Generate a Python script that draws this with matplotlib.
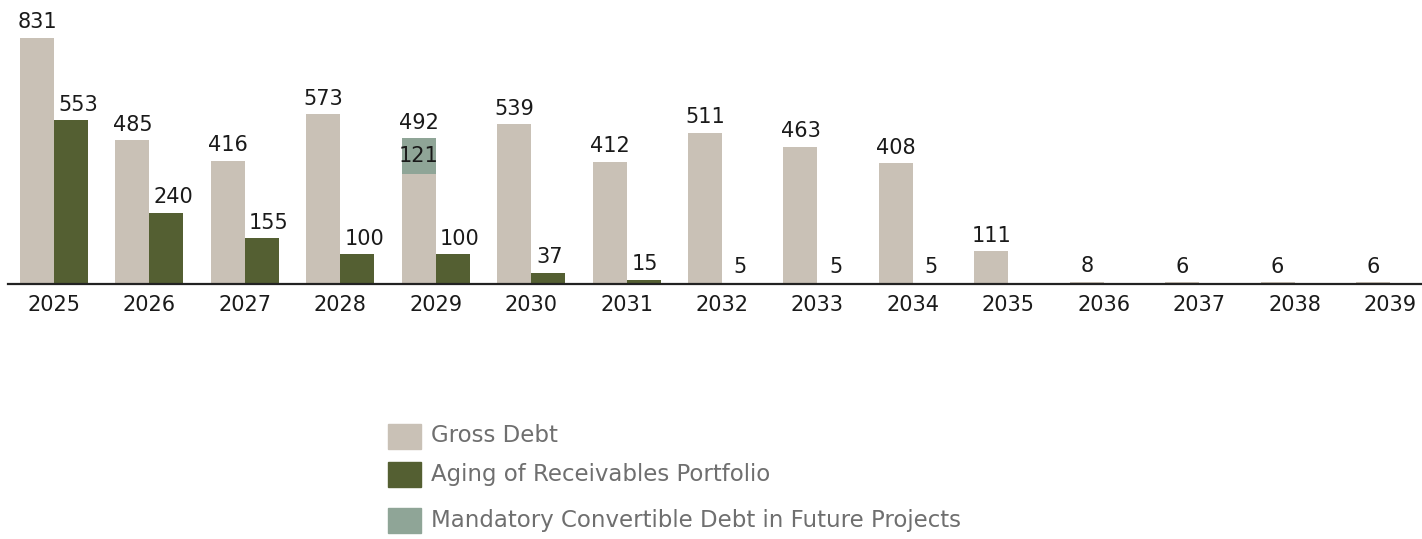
import numpy as np
from matplotlib import pyplot as plt
from matplotlib.patches import Rectangle

years = [str(y) for y in range(2025, 2040)]
gross_debt = [831, 485, 416, 573, 492, 539, 412, 511, 463, 408, 111, 8, 6, 6, 6]
receivables = [553, 240, 155, 100, 100, 37, 15, 5, 5, 5, 0, 0, 0, 0, 0]
# mandatory convertible portion sits on top of the 2029 gross debt bar
convertible = [0, 0, 0, 0, 121, 0, 0, 0, 0, 0, 0, 0, 0, 0, 0]

legend_labels = ['Gross Debt', 'Aging of Receivables Portfolio',
                 'Mandatory Convertible Debt in Future Projects']

c_gross = '#c9c1b6'
c_recv = '#545f32'
c_conv = '#8fa597'
c_text = '#1a1a1a'

plt.rcParams['font.family'] = ['DejaVu Sans']

W, H = 1422, 539
fig = plt.figure(figsize=(W / 100, H / 100), dpi=100)
ax = fig.add_axes([8 / W, 255 / H, 1414 / W, 284 / H])

x = np.arange(len(years))
w = 0.356
gross = np.array(gross_debt)
conv = np.array(convertible)

ax.bar(x - w / 2, gross - conv, w, color=c_gross, zorder=2)
ax.bar(x - w / 2, conv, w, bottom=gross - conv, color=c_conv, zorder=2)
ax.bar(x + w / 2, receivables, w, color=c_recv, zorder=2)

fs = 15
for i in range(len(years)):
    ax.annotate(str(gross_debt[i]), (x[i] - w / 2, gross_debt[i]),
                xytext=(0, 4), textcoords='offset points',
                ha='center', va='bottom', fontsize=fs, color=c_text)
    if convertible[i]:
        ax.text(x[i] - w / 2, gross_debt[i] - convertible[i] / 2,
                str(convertible[i]), ha='center', va='center',
                fontsize=fs, color=c_text, zorder=3)
    if i < 10:
        dx = 5 if receivables[i] >= 100 else 1
        ax.annotate(str(receivables[i]), (x[i] + w / 2, receivables[i]),
                    xytext=(dx, 4), textcoords='offset points',
                    ha='center', va='bottom', fontsize=fs, color=c_text)

ax.set_xlim(-46 / 95.43, 14 + 32 / 95.43)
ax.set_ylim(0, 831 * 284 / 246)
ax.set_xticks(x)
ax.set_xticklabels(years, fontsize=fs, color=c_text)
ax.tick_params(axis='x', length=0, pad=8)
ax.set_yticks([])
for s in ['top', 'right', 'left']:
    ax.spines[s].set_visible(False)
ax.spines['bottom'].set_linewidth(1.6)
ax.spines['bottom'].set_color('#222222')
ax.spines['bottom'].set_zorder(3)

# legend drawn by hand to keep the row spacing
rows = [436, 474, 520]
for lab, col, yc in zip(legend_labels, [c_gross, c_recv, c_conv], rows):
    fig.patches.append(Rectangle((388 / W, (H - yc - 12.5) / H), 33 / W, 25 / H,
                                 transform=fig.transFigure, color=col))
    fig.text(431 / W, (H - yc) / H, lab, ha='left', va='center',
             fontsize=16.5, color='#6f6f6f')

fig.savefig('out.png', dpi=100)
